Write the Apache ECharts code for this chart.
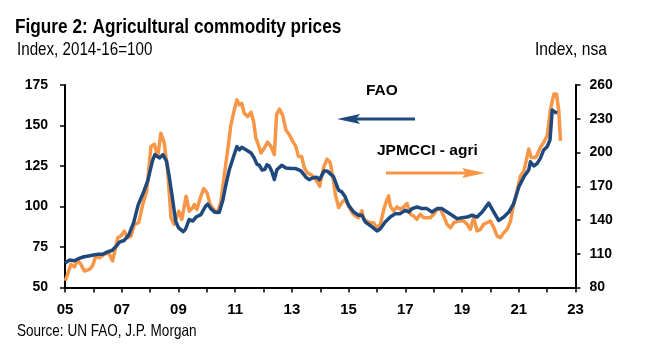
<!DOCTYPE html>
<html>
<head>
<meta charset="utf-8">
<script src="https://cdn.jsdelivr.net/npm/echarts@6/dist/echarts.min.js"></script>
<style>
  html, body { margin: 0; padding: 0; background: #fff; }
  #chart { width: 656px; height: 360px; }
</style>
</head>
<body>
<div id="chart"></div>
<script>
// ---- Data ----
// FAO food price index (left axis, 2014-16=100): fractional year, value
const faoDates = [
  2005.0, 2005.08, 2005.17, 2005.33, 2005.5, 2005.67, 2005.83, 2006.0, 2006.17, 2006.33,
  2006.5, 2006.67, 2006.83, 2006.92, 2007.08, 2007.25, 2007.42, 2007.58, 2007.75, 2007.92,
  2008.08, 2008.17, 2008.33, 2008.45, 2008.58, 2008.67, 2008.79, 2008.9, 2009.0, 2009.17,
  2009.25, 2009.38, 2009.5, 2009.62, 2009.79, 2009.95, 2010.03, 2010.15, 2010.28, 2010.44,
  2010.56, 2010.68, 2010.79, 2010.91, 2011.06, 2011.15, 2011.23, 2011.38, 2011.56, 2011.67,
  2011.77, 2011.85, 2011.95, 2012.05, 2012.12, 2012.2, 2012.29, 2012.38, 2012.47, 2012.64,
  2012.79, 2012.97, 2013.14, 2013.32, 2013.5, 2013.61, 2013.73, 2013.88, 2013.97, 2014.14,
  2014.26, 2014.47, 2014.65, 2014.76, 2014.88, 2015.0, 2015.18, 2015.35, 2015.47, 2015.59,
  2015.76, 2016.0, 2016.12, 2016.29, 2016.47, 2016.65, 2016.82, 2017.0, 2017.12, 2017.24,
  2017.41, 2017.59, 2017.76, 2017.94, 2018.12, 2018.29, 2018.47, 2018.65, 2018.82, 2019.0,
  2019.18, 2019.35, 2019.53, 2019.71, 2019.94, 2020.12, 2020.29, 2020.47, 2020.65, 2020.82,
  2021.0, 2021.18, 2021.35, 2021.41, 2021.53, 2021.65, 2021.76, 2021.88, 2022.0, 2022.1,
  2022.18, 2022.26, 2022.35
];
const faoValues = [
  65, 66, 67, 66.5, 68, 69, 69.5, 70, 70.5, 70.5,
  72, 73, 76, 78, 79, 82.5, 90, 101, 108, 116,
  128, 132, 130, 132, 128, 119, 105, 91, 87, 84.5,
  86, 92, 91, 93.5, 95, 100, 101.5, 98.5, 96.5, 96.5,
  103.5, 114, 122.5, 129, 137, 135, 136.5, 135, 133, 130,
  126, 125.5, 122.5, 123, 125.8, 125, 121.7, 116.6, 122.7, 125.4,
  123.8, 123.4, 123.4, 122, 118, 116.6, 117.6, 118, 116.6, 122,
  121.7, 118.3, 110, 109, 106, 100.7, 96.6, 94.6, 94.6, 90.4,
  88.3, 84.9, 86.3, 90.4, 93.5, 95.6, 95.6, 97.7, 96.6, 98.7,
  99.7, 98.7, 98.7, 96.6, 98.7, 98.7, 96.6, 94.6, 92.5, 93.1,
  93.5, 94.6, 93.5, 96.6, 102.1, 96.6, 91.4, 93.5, 96.6, 101.8,
  112.1, 118.3, 122.5, 127.6, 125, 126.6, 129.7, 134.9, 136.9, 141,
  159.5, 158.5, 157.5
];
// JPMCCI - agri (right axis, index nsa): fractional year, value
const jpmDates = [
  2005.01, 2005.09, 2005.21, 2005.33, 2005.45, 2005.56, 2005.68, 2005.86, 2005.97, 2006.09,
  2006.21, 2006.39, 2006.54, 2006.68, 2006.86, 2006.97, 2007.09, 2007.21, 2007.33, 2007.44,
  2007.6, 2007.74, 2007.88, 2008.03, 2008.15, 2008.27, 2008.38, 2008.5, 2008.62, 2008.74,
  2008.85, 2009.01, 2009.12, 2009.27, 2009.38, 2009.5, 2009.56, 2009.65, 2009.77, 2009.89,
  2010.01, 2010.12, 2010.24, 2010.38, 2010.5, 2010.62, 2010.73, 2010.85, 2010.97, 2011.06,
  2011.15, 2011.23, 2011.32, 2011.44, 2011.56, 2011.65, 2011.73, 2011.82, 2011.91, 2012.03,
  2012.14, 2012.26, 2012.38, 2012.46, 2012.56, 2012.67, 2012.79, 2012.91, 2013.03, 2013.14,
  2013.23, 2013.34, 2013.44, 2013.55, 2013.67, 2013.79, 2013.88, 2013.98, 2014.12, 2014.24,
  2014.35, 2014.47, 2014.53, 2014.65, 2014.76, 2014.88, 2015.0, 2015.12, 2015.24, 2015.35,
  2015.47, 2015.53, 2015.65, 2015.76, 2015.88, 2016.0, 2016.12, 2016.24, 2016.35, 2016.41,
  2016.47, 2016.59, 2016.71, 2016.82, 2016.94, 2017.06, 2017.18, 2017.29, 2017.41, 2017.53,
  2017.65, 2017.76, 2017.88, 2018.0, 2018.12, 2018.24, 2018.35, 2018.47, 2018.59, 2018.71,
  2018.88, 2019.06, 2019.18, 2019.29, 2019.41, 2019.53, 2019.65, 2019.76, 2019.88, 2020.0,
  2020.12, 2020.24, 2020.35, 2020.47, 2020.59, 2020.71, 2020.82, 2020.94, 2021.06, 2021.18,
  2021.29, 2021.35, 2021.44, 2021.59, 2021.65, 2021.76, 2021.88, 2022.0, 2022.12, 2022.24,
  2022.33, 2022.41, 2022.47
];
const jpmValues = [
  86, 91.8, 100.6, 98.3, 104.2, 100.6, 94.7, 96.1, 99.2, 108.1,
  106.5, 109.5, 111, 103.6, 124.2, 125.8, 130.1, 124.2, 125.8, 136,
  137.6, 153.7, 165.5, 205.4, 207.4, 196.5, 217.2, 208.3, 183.2, 141.9,
  136, 147.8, 140.5, 161.2, 147.8, 150.8, 153.7, 149.4, 159.6, 168,
  164.1, 153.7, 149.4, 146.4, 156.8, 180.4, 201, 224.6, 237.8, 246.8,
  242.3, 243.7, 234.9, 231.9, 235.8, 227.6, 212.8, 206.7, 199.5, 204,
  209.2, 205.4, 198.1, 233.5, 238.7, 233.5, 220.1, 215.8, 209.9, 205.4,
  196.5, 196.5, 186.3, 181.8, 180.4, 177.9, 174.5, 170, 186.7, 194.1,
  191.1, 174.8, 162.9, 151, 155.5, 158.4, 152.5, 146.6, 143.6, 142.1,
  148.1, 140.6, 139.1, 137.6, 137.6, 133.2, 136.2, 149.5, 158, 161.4,
  152.5, 148.1, 151.6, 149.5, 151.6, 154.6, 145.1, 143.6, 140.6, 145.1,
  142.1, 142.1, 142.1, 145.1, 149.5, 149.5, 143.6, 136.2, 133.2, 137.6,
  139.1, 139.1, 136.2, 131.7, 142.1, 130.3, 131.7, 136.2, 137.6, 139.1,
  133.2, 125.7, 124.3, 128.7, 131.7, 139.1, 154, 165.8, 179.2, 183.6,
  195.6, 203, 195.6, 195.6, 198, 204.5, 209, 214.9, 238.6, 252,
  252, 237.2, 210.4
];
const xTickLabels = ['05', '07', '09', '11', '13', '15', '17', '19', '21', '23'];
const leftTicks = [50, 75, 100, 125, 150, 175];
const rightTicks = [80, 110, 140, 170, 200, 230, 260];

const NAVY = '#1F497D';
const ORANGE = '#F79646';
const SANS = "'Liberation Sans', Arial, sans-serif";
const NARROW_SCALE = 0.82; // emulate Arial Narrow

const faoData = faoDates.map((d, i) => [d, faoValues[i]]);
const jpmData = jpmDates.map((d, i) => [d, jpmValues[i]]);

const chart = echarts.init(document.getElementById('chart'), null, { renderer: 'canvas' });

const axisLabelBase = { color: '#000', fontFamily: SANS, fontWeight: 'bold', fontSize: 14 };

function narrowText(text, x, y, font) {
  return { type: 'text', x: x, y: y, scaleX: NARROW_SCALE, scaleY: 1,
    style: { text: text, fill: '#000', font: font, textAlign: 'left', textVerticalAlign: 'middle' } };
}

chart.setOption({
  animation: false,
  backgroundColor: '#fff',
  grid: { left: 65, right: 80.5, top: 85, height: 202.5, containLabel: false },
  xAxis: {
    type: 'value',
    min: 2005, max: 2023, interval: 1,
    axisLine: { show: true, onZero: false, lineStyle: { color: '#000', width: 2 } },
    axisTick: { show: true, inside: false, length: 5, lineStyle: { color: '#000', width: 1.5 } },
    splitLine: { show: false },
    axisLabel: Object.assign({}, axisLabelBase, {
      fontSize: 15,
      margin: 15,
      formatter: function (v) {
        const idx = Math.round(v - 2005);
        return idx % 2 === 0 ? xTickLabels[idx / 2] : '';
      }
    })
  },
  yAxis: [
    {
      type: 'value', position: 'left',
      min: leftTicks[0], max: leftTicks[leftTicks.length - 1], interval: 25,
      axisLine: { show: true, lineStyle: { color: '#000', width: 2 } },
      axisTick: { show: true, inside: false, length: 5, lineStyle: { color: '#000', width: 1.5 } },
      splitLine: { show: false },
      axisLabel: Object.assign({}, axisLabelBase, { margin: 17 })
    },
    {
      type: 'value', position: 'right',
      min: rightTicks[0], max: rightTicks[rightTicks.length - 1], interval: 30,
      axisLine: { show: true, lineStyle: { color: '#000', width: 2 } },
      axisTick: { show: true, inside: false, length: 5, lineStyle: { color: '#000', width: 1.5 } },
      splitLine: { show: false },
      axisLabel: Object.assign({}, axisLabelBase, { margin: 14 })
    }
  ],
  series: [
    {
      name: 'JPMCCI - agri', type: 'line', yAxisIndex: 1, data: jpmData,
      showSymbol: false, symbol: 'none',
      lineStyle: { color: ORANGE, width: 3.5, join: 'round' }, z: 2
    },
    {
      name: 'FAO', type: 'line', yAxisIndex: 0, data: faoData,
      showSymbol: false, symbol: 'none',
      lineStyle: { color: NAVY, width: 3.5, join: 'round' }, z: 3
    }
  ],
  graphic: [
    narrowText('Figure 2: Agricultural commodity prices', 15, 27, 'bold 21px ' + SANS),
    narrowText('Index, 2014-16=100', 17, 50, '18.5px ' + SANS),
    narrowText('Index, nsa', 535, 50, '19px ' + SANS),
    narrowText('Source: UN FAO, J.P. Morgan', 17, 331, '16.5px ' + SANS),
    { type: 'text', x: 366, y: 91, style: { text: 'FAO', fill: '#000',
      font: "bold 15.5px " + SANS, textAlign: 'left', textVerticalAlign: 'middle' } },
    { type: 'text', x: 377, y: 151, style: { text: 'JPMCCI - agri', fill: '#000',
      font: "bold 15.5px " + SANS, textAlign: 'left', textVerticalAlign: 'middle' } },
    // FAO arrow (pointing left)
    { type: 'line', shape: { x1: 415, y1: 119, x2: 354, y2: 119 },
      style: { stroke: NAVY, lineWidth: 3 } },
    { type: 'polygon', shape: { points: [[337, 119], [360, 114], [356, 119], [360, 124]] },
      style: { fill: NAVY } },
    // JPMCCI arrow (pointing right)
    { type: 'line', shape: { x1: 386, y1: 173, x2: 468, y2: 173 },
      style: { stroke: ORANGE, lineWidth: 3 } },
    { type: 'polygon', shape: { points: [[485, 173], [462, 168], [466, 173], [462, 178]] },
      style: { fill: ORANGE } }
  ]
});
</script>
</body>
</html>
